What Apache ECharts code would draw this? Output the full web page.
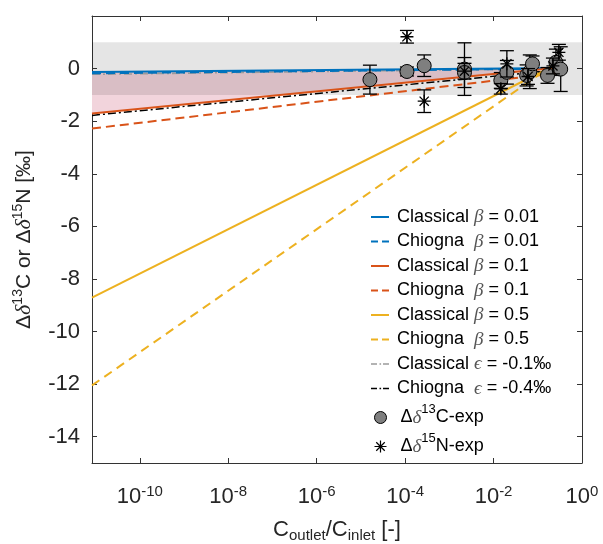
<!DOCTYPE html>
<html>
<head>
<meta charset="utf-8">
<script src="https://cdn.jsdelivr.net/npm/echarts@6/dist/echarts.min.js"></script>
<style>
  html, body { margin: 0; padding: 0; background: #fff; }
  #chart { width: 603px; height: 544px; }
</style>
</head>
<body>
<div id="chart"></div>
<script>
// Outlet/inlet concentration ratio spanned by the model lines
const lineRatio = [8.3e-12, 0.35];

// Isotope shift (‰) at both ends of each model line
const classical001 = [-0.13, 0.02];
const chiogna001 = [-0.18, 0.0];
const classical01 = [-1.71, 0.05];
const chiogna01 = [-2.28, -0.15];
const classical05 = [-8.71, 0.26];
const chiogna05 = [-12.05, 0.37];
const classicalEps = [-0.22, 0.0];
const chiognaEps = [-1.78, -0.04];

// Analytical uncertainty window (‰) over the whole ratio range
const bandRatio = [8.3e-12, 1];
const bandLower = [-1, -1];
const bandUpper = [1, 1];

// Carbon isotope measurements: ratio, shift (‰), error (‰)
const c13Ratio = [1.6e-5, 1.1e-4, 2.7e-4, 2.2e-3, 2.2e-3, 0.0146, 0.02, 0.056, 0.066, 0.076, 0.166, 0.257, 0.33];
const c13Value = [-0.42, -0.11, 0.11, -0.02, -0.15, -0.45, -0.14, -0.26, -0.12, 0.18, -0.26, 0.24, -0.02];
const c13Error = [0.55, 0.17, 0.41, 1.0, 0.57, 0.3, 0.45, 0.4, 0.64, 0.3, 0.3, 0.5, 0.85];

// Nitrogen isotope measurements: ratio, shift (‰), error (‰)
const n15Ratio = [1.1e-4, 2.7e-4, 2.2e-3, 0.0146, 0.02, 0.06, 0.22, 0.3];
const n15Value = [1.21, -1.24, -0.1, -0.77, 0.18, -0.3, 0.1, 0.62];
const n15Error = [0.24, 0.43, 0.3, 0.2, 0.5, 0.3, 0.3, 0.3];

// Tick labels (decade exponents on x, shift on y)
const xTickExp = [-10, -8, -6, -4, -2, 0];
const yTickVals = [-14, -12, -10, -8, -6, -4, -2, 0];

const FONT = 'Liberation Sans';
const INK = '#262626';
const BLUE = '#0072BD', ORANGE = '#D95319', YELLOW = '#EDB120';

const lg = v => Math.log10(v);
const xMin = lg(bandRatio[0]), xMax = lg(bandRatio[1]);

const asterisk = 'path://M-0.8,-8L0.8,-8L0.8,8L-0.8,8Z M-8,-0.8L8,-0.8L8,0.8L-8,0.8Z ' +
  'M-6.23,-5.09L-5.09,-6.23L6.23,5.09L5.09,6.23Z M5.09,-6.23L6.23,-5.09L-5.09,6.23L-6.23,5.09Z';

// Legend samples for the line styles
const iconSolid = 'path://M0,0h18v2h-18z';
const iconDash = 'path://M0,0h7v2h-7z M11,0h7v2h-7z';
const iconDashDot = 'path://M0,0h6v1.6h-6z M8.5,0h1.6v1.6h-1.6z M12,0h6v1.6h-6z';

function modelLine(name, vals, color, dash, width, z) {
  return {
    type: 'line', name: name,
    data: lineRatio.map((r, i) => [lg(r), vals[i]]),
    symbol: 'none', silent: true, z: z,
    lineStyle: { color: color, width: width, type: dash },
    itemStyle: { color: color }
  };
}

// Filled region between a lower and an upper boundary
function shadedRegion(xs, lower, upper, color, z) {
  return {
    type: 'custom', silent: true, z: z, clip: true,
    data: xs.map((r, i) => [lg(r), lower[i], upper[i]]),
    encode: { x: 0, y: [1, 2] },
    renderItem: function (params, api) {
      if (params.dataIndexInside !== 0) return null;
      const n = params.dataInsideLength;
      const pts = [];
      for (let i = 0; i < n; i++) pts.push(api.coord([api.value(0, i), api.value(2, i)]));
      for (let i = n - 1; i >= 0; i--) pts.push(api.coord([api.value(0, i), api.value(1, i)]));
      return { type: 'polygon', shape: { points: pts }, style: { fill: color, stroke: null } };
    }
  };
}

function errorBars(ratio, value, err, z) {
  return {
    type: 'custom', silent: true, z: z,
    data: ratio.map((r, i) => [lg(r), value[i], err[i]]),
    encode: { x: 0, y: 1 },
    renderItem: function (params, api) {
      const x = api.value(0), y = api.value(1), e = api.value(2);
      const t = api.coord([x, y + e]);
      const b = api.coord([x, y - e]);
      const w = 7;
      const st = { stroke: '#000', lineWidth: 1.3 };
      return {
        type: 'group',
        children: [
          { type: 'line', shape: { x1: t[0], y1: t[1], x2: b[0], y2: b[1] }, style: st },
          { type: 'line', shape: { x1: t[0] - w, y1: t[1], x2: t[0] + w, y2: t[1] }, style: st },
          { type: 'line', shape: { x1: b[0] - w, y1: b[1], x2: b[0] + w, y2: b[1] }, style: st }
        ]
      };
    }
  };
}

const lineNames = [
  'Classical β = 0.01', 'Chiogna  β = 0.01',
  'Classical β = 0.1', 'Chiogna  β = 0.1',
  'Classical β = 0.5', 'Chiogna  β = 0.5',
  'Classical ϵ = -0.1‰', 'Chiogna  ϵ = -0.4‰'
];
const lineIcons = [iconSolid, iconDash, iconSolid, iconDash, iconSolid, iconDash, iconDashDot, iconDashDot];
const expNames = ['Δδ13C-exp', 'Δδ15N-exp'];

const legendRich = {
  i: { fontFamily: 'Liberation Serif', fontStyle: 'italic', fontSize: 19, color: '#555' },
  sup: { fontSize: 13, lineHeight: 13, verticalAlign: 'top', fontFamily: FONT, color: '#000' }
};
function legendText(name) {
  if (name === expNames[0]) return 'Δ{i|δ}{sup|13}C-exp';
  if (name === expNames[1]) return 'Δ{i|δ}{sup|15}N-exp';
  return name.replace(/([βϵ])/g, '{i|$1}');
}

const series = [
  shadedRegion(lineRatio, classical01, classical001, 'rgb(242,212,220)', 1),
  shadedRegion(bandRatio, bandLower, bandUpper, 'rgba(0,0,0,0.1)', 2),
  modelLine(lineNames[6], classicalEps, '#9a9a9a', [8, 3, 2, 3], 1.5, 3),
  modelLine(lineNames[7], chiognaEps, '#000', [8, 3, 2, 3], 1.5, 3),
  modelLine(lineNames[0], classical001, BLUE, 'solid', 2, 4),
  modelLine(lineNames[1], chiogna001, BLUE, [9, 5], 2, 4),
  modelLine(lineNames[2], classical01, ORANGE, 'solid', 2, 4),
  modelLine(lineNames[3], chiogna01, ORANGE, [9, 5], 2, 4),
  modelLine(lineNames[4], classical05, YELLOW, 'solid', 2, 4),
  modelLine(lineNames[5], chiogna05, YELLOW, [9, 6], 2, 4),
  errorBars(c13Ratio, c13Value, c13Error, 5),
  {
    type: 'scatter', name: expNames[0], z: 6, silent: true,
    data: c13Ratio.map((r, i) => [lg(r), c13Value[i]]),
    symbol: 'circle', symbolSize: 14,
    itemStyle: { color: '#7f7f7f', borderColor: '#000', borderWidth: 1, opacity: 1 }
  },
  errorBars(n15Ratio, n15Value, n15Error, 7),
  {
    type: 'scatter', name: expNames[1], z: 8, silent: true,
    data: n15Ratio.map((r, i) => [lg(r), n15Value[i]]),
    symbol: asterisk, symbolSize: 13,
    itemStyle: { color: '#000', opacity: 1 }
  }
];

// Box frame: axis lines pinned to the grid edges, ticks pointing into the plot
const frameLine = () => ({ show: true, onZero: false, lineStyle: { color: '#333', width: 1 } });
const frameTick = () => ({ show: true, inside: true, length: 5, lineStyle: { color: '#333', width: 1 } });

const option = {
  animation: false,
  backgroundColor: '#fff',
  textStyle: { fontFamily: FONT },
  grid: { left: 92, right: 21, top: 16, bottom: 81, containLabel: false, outerBoundsMode: 'none' },
  xAxis: [
    {
      type: 'value', position: 'bottom', min: xMin, max: xMax, splitNumber: 5,
      axisLine: frameLine(), axisTick: frameTick(), splitLine: { show: false },
      axisLabel: {
        margin: 21, color: INK,
        formatter: v => {
          const r = Math.round(v);
          return (Math.abs(v - r) < 1e-6 && xTickExp.includes(r)) ? '{b|10}{s|' + r + '}' : '';
        },
        rich: {
          b: { fontSize: 22, lineHeight: 26, fontFamily: FONT, color: INK },
          s: { fontSize: 15, lineHeight: 15, verticalAlign: 'top', fontFamily: FONT, color: INK }
        }
      },
      name: 'C{sub|outlet}/C{sub|inlet} [-]',
      nameLocation: 'middle', nameGap: 54,
      nameTextStyle: {
        fontSize: 22, lineHeight: 26, color: INK, fontFamily: FONT,
        rich: { sub: { fontSize: 15, lineHeight: 15, verticalAlign: 'bottom', fontFamily: FONT, color: INK } }
      }
    },
    {
      type: 'value', position: 'top', min: xMin, max: xMax, splitNumber: 5,
      axisLine: frameLine(), axisTick: frameTick(), splitLine: { show: false },
      axisLabel: { show: false }
    }
  ],
  yAxis: [
    {
      type: 'value', position: 'left', min: -15, max: 2, splitNumber: 8,
      axisLine: frameLine(), axisTick: frameTick(), splitLine: { show: false },
      axisLabel: {
        margin: 12, color: INK, fontSize: 22, fontFamily: FONT,
        formatter: v => yTickVals.includes(v) ? String(v) : ''
      },
      name: 'Δ{i|δ}{sup|13}C or Δ{i|δ}{sup|15}N [‰]',
      nameLocation: 'middle', nameGap: 44, nameRotate: 90,
      nameTextStyle: {
        fontSize: 21, lineHeight: 26, color: INK, fontFamily: FONT,
        rich: {
          i: { fontFamily: 'Liberation Serif', fontStyle: 'italic', fontSize: 22, color: INK },
          sup: { fontSize: 14, lineHeight: 14, verticalAlign: 'top', fontFamily: FONT, color: INK }
        }
      }
    },
    {
      type: 'value', position: 'right', min: -15, max: 2, splitNumber: 8,
      axisLine: frameLine(), axisTick: frameTick(), splitLine: { show: false },
      axisLabel: { show: false }
    }
  ],
  legend: [
    {
      data: lineNames.map((n, i) => ({ name: n, icon: lineIcons[i] })),
      orient: 'vertical', left: 366, top: 200,
      itemWidth: 18, itemHeight: 14, itemGap: 0.5, selectedMode: false,
      formatter: legendText,
      textStyle: { fontSize: 18, lineHeight: 24, color: '#000', fontFamily: FONT, padding: [0, 0, 0, 3], rich: legendRich }
    },
    {
      data: [
        { name: expNames[0], icon: 'circle', itemStyle: { color: '#7f7f7f', borderColor: '#000', borderWidth: 1 } },
        { name: expNames[1], icon: asterisk, itemStyle: { color: '#000' } }
      ],
      orient: 'vertical', left: 369, top: 398,
      itemWidth: 12, itemHeight: 12, itemGap: 0, selectedMode: false,
      formatter: legendText,
      textStyle: { fontSize: 18, lineHeight: 29, color: '#000', fontFamily: FONT, padding: [0, 0, 0, 9], rich: legendRich }
    }
  ],
  series: series
};

const chart = echarts.init(document.getElementById('chart'), null, { renderer: 'canvas' });
chart.setOption(option);
</script>
</body>
</html>
